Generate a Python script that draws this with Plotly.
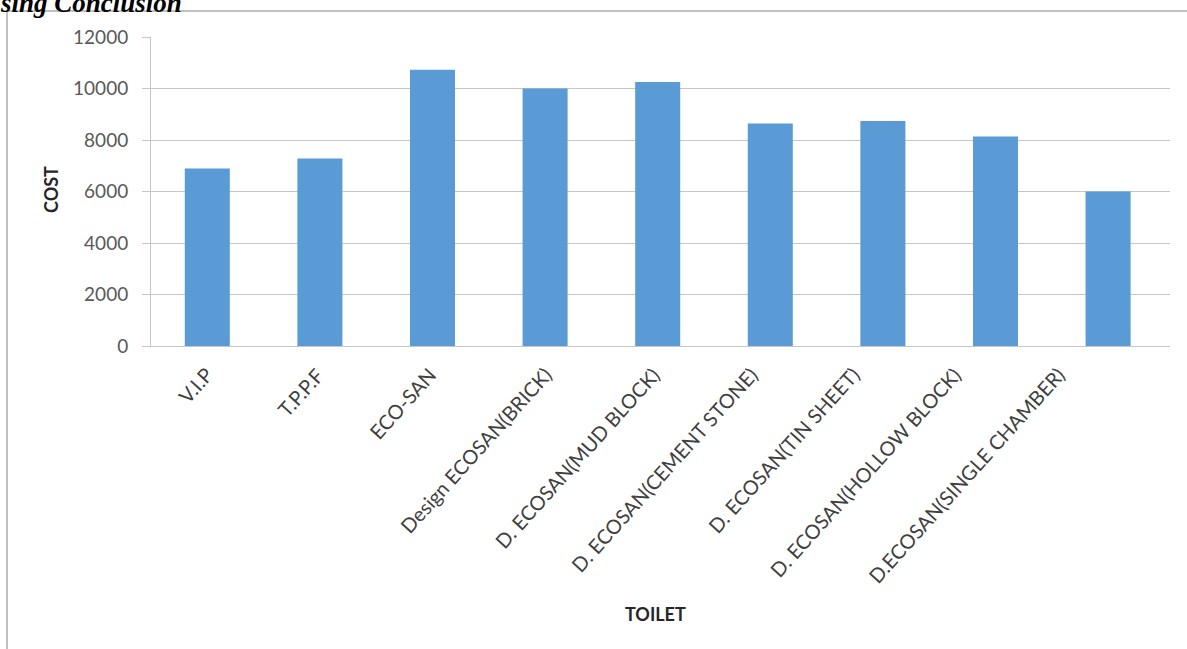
import plotly.graph_objects as go

# Cost of each toilet design
toilets = [
    "V.I.P",
    "T.P.P.F",
    "ECO-SAN",
    "Design ECOSAN(BRICK)",
    "D. ECOSAN(MUD BLOCK)",
    "D. ECOSAN(CEMENT STONE)",
    "D. ECOSAN(TIN SHEET)",
    "D. ECOSAN(HOLLOW BLOCK)",
    "D.ECOSAN(SINGLE CHAMBER)",
]
costs = [6890, 7280, 10730, 10000, 10250, 8640, 8740, 8140, 6000]
y_ticks = [0, 2000, 4000, 6000, 8000, 10000, 12000]

W, H = 1187, 649
L, R, T, B = 151, 17, 37, 303
GRID = "#c6c6c6"
FONT = "Lato, 'Open Sans', sans-serif"

fig = go.Figure(
    go.Bar(
        x=toilets,
        y=costs,
        width=0.4,
        marker=dict(color="#5b9bd5", line=dict(width=0)),
    )
)

fig.update_layout(
    width=W,
    height=H,
    margin=dict(l=L, r=R, t=T, b=B),
    paper_bgcolor="white",
    plot_bgcolor="white",
    showlegend=False,
    font=dict(family=FONT, size=18, color="#595959"),
)

fig.update_xaxes(
    type="category",
    range=[-0.5, 8.55],
    showticklabels=False,
    showline=True,
    linecolor=GRID,
    linewidth=1,
    showgrid=False,
    ticks="",
)

fig.update_yaxes(
    range=[0, 12000],
    tickvals=y_ticks,
    ticktext=[str(v) for v in y_ticks],
    tickfont=dict(size=19, color="#595959"),
    showgrid=True,
    gridcolor=GRID,
    gridwidth=1,
    showline=True,
    linecolor=GRID,
    linewidth=1,
    ticks="outside",
    ticklen=8,
    tickcolor=GRID,
    ticklabelstandoff=10,
    zeroline=False,
)

# slanted category labels, hung under each bar
label_nudge = [5, 3, 3, 6, 1, -14, -24, -35, -44]
for name, dx in zip(toilets, label_nudge):
    fig.add_annotation(
        text=name, x=name, y=0, xref="x", yref="y",
        xanchor="right", yanchor="top",
        xshift=dx + 8, yshift=-14,
        textangle=-48, showarrow=False,
        font=dict(family=FONT, size=20, color="#404040"),
    )

# axis titles
fig.add_annotation(
    text="<b>COST</b>", x=(38 - L) / (W - L - R), y=(H - B - 190) / (H - T - B),
    xref="paper", yref="paper", textangle=-90, showarrow=False,
    font=dict(family=FONT, size=18, color="#262626"),
)
fig.add_annotation(
    text="<b>TOILET</b>", x=(655 - L) / (W - L - R), y=(H - B - 627) / (H - T - B),
    xref="paper", yref="paper", showarrow=False,
    font=dict(family=FONT, size=18, color="#262626"),
)

# heading text of the page above the chart frame
fig.add_annotation(
    text="<b><i>sing Conclusion</i></b>", x=(-2 - L) / (W - L - R),
    y=(H - B - 20) / (H - T - B),
    xref="paper", yref="paper", xanchor="left", yanchor="bottom",
    showarrow=False,
    font=dict(family="Liberation Serif, serif", size=27, color="black"),
)

# chart frame
fig.add_shape(
    type="rect", xref="paper", yref="paper",
    x0=(7 - L) / (W - L - R), x1=(W + 5 - L) / (W - L - R),
    y0=(H - B - (H + 5)) / (H - T - B), y1=(H - B - 11) / (H - T - B),
    line=dict(color="#c0c0c0", width=2), layer="below",
)

fig.write_html("out.html")
